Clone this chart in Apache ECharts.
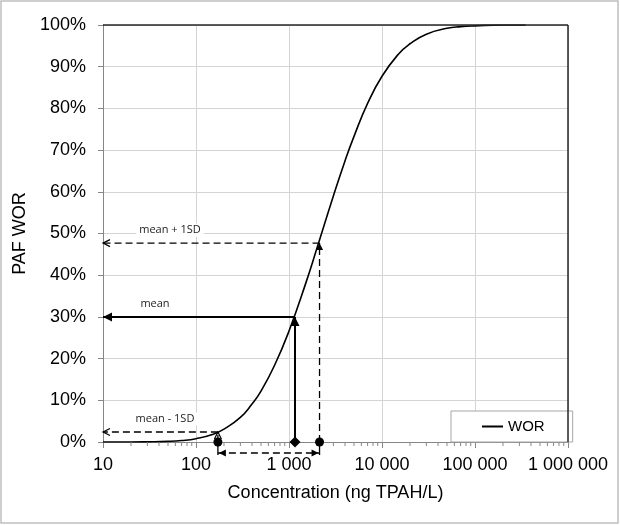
<!DOCTYPE html>
<html>
<head>
<meta charset="utf-8">
<script src="https://cdn.jsdelivr.net/npm/echarts@6/dist/echarts.min.js"></script>
<style>
  html, body { margin: 0; padding: 0; background: #fff; }
  #chart { width: 620px; height: 525px; }
</style>
</head>
<body>
<div id="chart"></div>
<script>
// WOR curve (concentration in ng TPAH/L, PAF in %)
const concentration = [10, 20, 30, 50, 70, 100, 150, 200, 300, 400, 500, 700, 1000, 1500, 2000,
  3000, 4000, 5000, 7000, 10000, 15000, 20000, 30000, 50000, 70000, 100000, 200000, 350000];
const pafWor = [0, 0, 0.04, 0.15, 0.35, 0.8, 1.8, 3.1, 5.9, 9.1, 12.2, 18.4, 26.6, 37.8, 46.5,
  59.0, 67.4, 73.3, 81.2, 87.7, 93.0, 95.5, 97.8, 99.2, 99.6, 99.8, 100, 100];

// mean - 1SD, mean, mean + 1SD
const markNames = ['mean - 1SD', 'mean', 'mean + 1SD'];
const markConc = [172, 1160, 2130];
const markPaf = [2.4, 30, 47.7];
const markSymbols = ['circle', 'diamond', 'circle'];

const minorSteps = [2, 3, 4, 5, 6, 7, 8, 9];
const decades = [10, 100, 1000, 10000, 100000];

const ink = '#000';
const font = 'Liberation Sans, Arial, sans-serif';
const labelDx = [62, 52, 67];

const chart = echarts.init(document.getElementById('chart'));

chart.setOption({
  animation: false,
  backgroundColor: '#fff',
  textStyle: { fontFamily: font },
  grid: { left: 103, right: 52, top: 25, bottom: 83, outerBoundsMode: 'none' },
  legend: {
    left: 451,
    top: 411,
    padding: [8, 28, 8, 31],
    backgroundColor: '#fff',
    borderColor: '#a6a6a6',
    borderWidth: 1,
    itemWidth: 21,
    itemHeight: 2,
    textStyle: { fontSize: 15, color: ink, fontFamily: font },
    data: [{ name: 'WOR', icon: 'rect' }]
  },
  xAxis: {
    type: 'log',
    logBase: 10,
    min: 10,
    max: 1000000,
    splitNumber: 5,
    name: 'Concentration (ng TPAH/L)',
    nameLocation: 'middle',
    nameGap: 42,
    nameTextStyle: { fontSize: 18, color: ink, fontFamily: font },
    axisLine: { show: true, lineStyle: { color: '#868686', width: 1 } },
    axisTick: { show: true, length: 6, lineStyle: { color: '#868686' } },
    axisLabel: {
      fontSize: 18,
      color: ink,
      margin: 14,
      formatter: v => String(Math.round(v)).replace(/\B(?=(\d{3})+(?!\d))/g, ' ')
    },
    splitLine: { show: true, lineStyle: { color: '#d4d4d4', width: 1 } }
  },
  yAxis: {
    type: 'value',
    min: 0,
    max: 100,
    interval: 10,
    name: 'PAF WOR',
    nameLocation: 'middle',
    nameGap: 68,
    nameTextStyle: { fontSize: 18, color: ink, fontFamily: font },
    axisLine: { show: true, lineStyle: { color: '#868686', width: 1 } },
    axisTick: { show: true, length: 5, lineStyle: { color: '#868686' } },
    axisLabel: { fontSize: 18, color: ink, margin: 17, formatter: '{value}%' },
    splitLine: { show: true, lineStyle: { color: '#d4d4d4', width: 1 } }
  },
  series: [
    {
      name: 'WOR',
      type: 'line',
      data: concentration.map((c, i) => [c, pafWor[i]]),
      showSymbol: false,
      symbol: 'none',
      smooth: true,
      color: ink,
      lineStyle: { color: ink, width: 1.6 },
      z: 4
    },
    {
      name: 'markers',
      type: 'scatter',
      clip: false,
      data: markConc.map((c, i) => ({ value: [c, 0], symbol: markSymbols[i], symbolSize: i === 1 ? 11 : 9 })),
      itemStyle: { color: ink, opacity: 1 },
      z: 10
    }
  ]
});

function px(x, y) { return chart.convertToPixel({ gridIndex: 0 }, [x, y]); }

const dashStyle = { stroke: ink, lineWidth: 1.3, lineDash: [7, 4], fill: null };
const solidStyle = { stroke: ink, lineWidth: 2, fill: null };

function seg(a, b, style) {
  return { type: 'line', shape: { x1: a[0], y1: a[1], x2: b[0], y2: b[1] }, style: style, z: 5, silent: true };
}

// arrow head with its tip at `tip`, pointing along unit vector `dir`
function head(tip, dir, filled, size) {
  const w = size * 0.5;
  const bx = tip[0] - dir[0] * size, by = tip[1] - dir[1] * size;
  const p1 = [bx - dir[1] * w, by + dir[0] * w];
  const p2 = [bx + dir[1] * w, by - dir[0] * w];
  if (filled) {
    return { type: 'polygon', shape: { points: [tip, p1, p2] }, style: { fill: ink }, z: 6, silent: true };
  }
  return { type: 'polyline', shape: { points: [p1, tip, p2] }, style: { stroke: ink, lineWidth: 1.2, fill: null }, z: 6, silent: true };
}

function buildGraphics() {
  const g = [];
  const origin = px(10, 0);
  const xLeft = origin[0], y0 = origin[1];

  // frame around the whole picture
  g.push({ type: 'rect', shape: { x: 1, y: 1, width: 617, height: 522 },
    style: { stroke: '#bfbfbf', lineWidth: 1.5, fill: null }, z: 0, silent: true });

  // dark top and right border of the plot
  const frame = { stroke: '#262626', lineWidth: 1.5, fill: null };
  g.push(seg(px(10, 100), px(1000000, 100), frame));
  g.push(seg(px(1000000, 100), px(1000000, 0), frame));

  // log minor ticks below the x axis
  const tickStyle = { stroke: '#868686', lineWidth: 1 };
  decades.forEach(d => minorSteps.forEach(s => {
    const x = px(d * s, 0)[0];
    g.push(seg([x, y0], [x, y0 + 4], tickStyle));
  }));

  markConc.forEach((c, i) => {
    const onCurve = px(c, markPaf[i]);
    const onAxis = px(c, 0);
    const isMean = i === 1;
    const style = isMean ? solidStyle : dashStyle;
    const leftPt = [xLeft, onCurve[1]];
    g.push(seg(onCurve, leftPt, style));
    g.push(head(leftPt, [-1, 0], isMean, isMean ? 9 : 7));
    g.push(seg(onAxis, onCurve, style));
    g.push(head(onCurve, [0, -1], i !== 0, isMean ? 9 : 7));
    g.push({
      type: 'text', z: 7, silent: true,
      style: {
        text: markNames[i], x: xLeft + labelDx[i], y: onCurve[1] - 13,
        align: 'center', verticalAlign: 'middle',
        fontSize: 11, fontFamily: 'Open Sans, sans-serif', fill: '#222',
        backgroundColor: '#fff', padding: [1, 3]
      }
    });
  });

  // double arrow between mean - 1SD and mean + 1SD below the axis
  const a = px(markConc[0], 0), b = px(markConc[2], 0);
  const yb = y0 + 11;
  const thin = { stroke: ink, lineWidth: 1.3, fill: null };
  g.push(seg([a[0], y0], [a[0], yb + 2], thin));
  g.push(seg([b[0], y0], [b[0], yb + 2], thin));
  g.push(seg([a[0], yb], [b[0], yb], dashStyle));
  g.push(head([a[0] + 1, yb], [-1, 0], true, 7));
  g.push(head([b[0] - 1, yb], [1, 0], true, 7));

  return g;
}

chart.setOption({ graphic: buildGraphics() });
</script>
</body>
</html>
